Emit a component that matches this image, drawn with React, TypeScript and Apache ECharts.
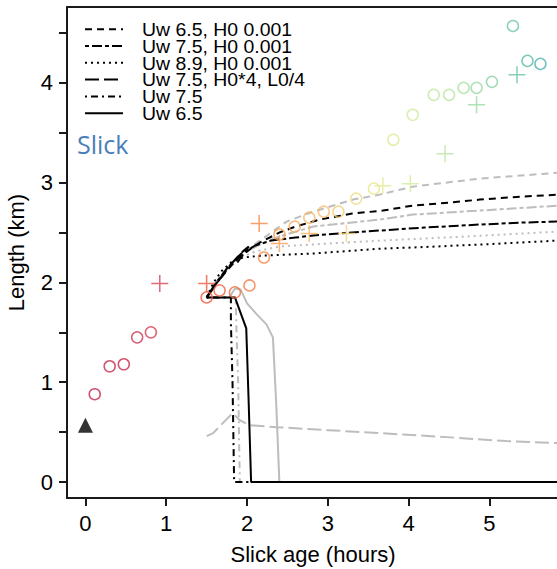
import React, { useEffect, useRef } from 'react';
import * as echarts from 'echarts';

// ---- observations ----
const circleAge = [0.115, 0.3, 0.475, 0.64, 0.81, 1.5, 1.66, 1.85, 2.03, 2.21, 2.4, 2.59, 2.77, 2.95, 3.13, 3.35, 3.57, 3.81, 4.05, 4.31, 4.5, 4.68, 4.84, 5.03, 5.29, 5.47, 5.63];
const circleLength = [0.88, 1.16, 1.18, 1.45, 1.5, 1.85, 1.92, 1.9, 1.97, 2.25, 2.48, 2.56, 2.65, 2.71, 2.71, 2.84, 2.94, 3.43, 3.68, 3.88, 3.88, 3.95, 3.95, 4.01, 4.57, 4.22, 4.19];
const crossAge = [0.92, 1.5, 2.15, 2.4, 2.77, 3.23, 3.68, 4.02, 4.45, 4.84, 5.34];
const crossLength = [1.99, 1.99, 2.59, 2.39, 2.49, 2.49, 2.97, 2.99, 3.29, 3.78, 4.08];
const triangleAge = [0];
const triangleLength = [0.57];

// ---- model curves (age h, length km) ----
const uw65H0 = [[1.5, 1.85], [1.6, 1.97], [1.75, 2.12], [1.9, 2.25], [2.05, 2.34], [2.16, 2.4], [2.4, 2.5], [2.6, 2.56], [2.9, 2.63], [3.3, 2.69], [3.68, 2.72], [4.05, 2.77], [4.5, 2.8], [4.88, 2.83], [5.4, 2.86], [5.86, 2.88]];
const uw75H0 = [[1.5, 1.85], [1.6, 1.98], [1.76, 2.15], [1.93, 2.29], [2.1, 2.37], [2.3, 2.42], [2.6, 2.45], [2.82, 2.47], [3.3, 2.5], [3.64, 2.52], [4.2, 2.55], [4.88, 2.58], [5.4, 2.6], [5.86, 2.61]];
const uw89H0 = [[1.5, 1.85], [1.58, 1.99], [1.68, 2.11], [1.8, 2.2], [1.95, 2.25], [2.21, 2.27], [2.82, 2.29], [3.68, 2.34], [4.05, 2.35], [4.9, 2.38], [5.86, 2.42]];
const uw75H0x4 = [[1.5, 1.85], [1.66, 2.03], [1.82, 2.2], [1.96, 2.32], [2.02, 2.36], [1.96, 2.29], [1.88, 2.2]];
const uw75 = [[1.5, 1.85], [1.8, 1.85], [1.8, 1.6], [1.82, 1.0], [1.84, 0], [2.05, 0]];
const uw65 = [[1.5, 1.85], [1.85, 1.85], [1.99, 1.54], [2.02, 0.8], [2.05, 0], [5.86, 0]];

const uw65H0Grey = [[1.5, 1.85], [1.6, 1.98], [1.75, 2.14], [1.9, 2.27], [2.0, 2.33], [2.16, 2.42], [2.49, 2.61], [2.82, 2.71], [3.31, 2.83], [3.64, 2.88], [4.05, 2.96], [4.88, 3.04], [5.86, 3.1]];
const uw75H0Grey = [[1.5, 1.85], [1.62, 1.99], [1.78, 2.16], [1.95, 2.29], [2.16, 2.38], [2.4, 2.46], [2.82, 2.56], [3.64, 2.63], [4.05, 2.68], [4.88, 2.72], [5.86, 2.77]];
const uw89H0Grey = [[1.5, 1.85], [1.6, 1.99], [1.75, 2.14], [1.92, 2.25], [2.1, 2.31], [2.4, 2.36], [3.0, 2.39], [3.68, 2.42], [4.7, 2.46], [5.86, 2.51]];
const uw75H0x4Grey = [[1.5, 0.46], [1.58, 0.49], [1.7, 0.59], [1.82, 0.69], [1.91, 0.62], [2.03, 0.57], [2.36, 0.55], [3.0, 0.52], [3.64, 0.49], [4.47, 0.45], [5.21, 0.41], [5.86, 0.39]];
const uw75Grey = [[1.5, 1.85], [1.86, 1.85], [1.87, 1.5], [1.89, 1.0], [1.91, 0], [2.4, 0]];
const uw65Grey = [[1.5, 1.85], [1.78, 1.85], [1.85, 1.94], [1.92, 1.93], [2.0, 1.79], [2.12, 1.68], [2.24, 1.58], [2.32, 1.45], [2.36, 0.8], [2.4, 0], [5.86, 0]];

const legendNames = ['Uw 6.5, H0 0.001', 'Uw 7.5, H0 0.001', 'Uw 8.9, H0 0.001', 'Uw 7.5, H0*4, L0/4', 'Uw 7.5', 'Uw 6.5'];
const xTicks = [0, 1, 2, 3, 4, 5];
const yTicks = [0, 0.5, 1, 1.5, 2, 2.5, 3, 3.5, 4, 4.5];
const yLabels = [0, 1, 2, 3, 4];

// colour ramp by slick age (palette)
const agePalette: [number, string][] = [
  [0, '#c0244c'], [0.5, '#c82c4e'], [1.0, '#dc4655'], [1.5, '#ee5a3c'], [2.0, '#f47844'],
  [2.5, '#f7a656'], [3.0, '#f7c070'], [3.5, '#ece68c'], [4.0, '#d2ec9c'], [4.5, '#b8e4a0'],
  [5.0, '#8ed2a6'], [5.5, '#58baa8'], [6.0, '#3898b6'],
];
function hex(c: string) { return [1, 3, 5].map(i => parseInt(c.slice(i, i + 2), 16)); }
function colorAt(a: number) {
  for (let i = 0; i < agePalette.length - 1; i++) {
    const [a0, c0] = agePalette[i];
    const [a1, c1] = agePalette[i + 1];
    if (a <= a1) {
      const t = Math.max(0, (a - a0) / (a1 - a0));
      const p = hex(c0), q = hex(c1);
      const r = p.map((v, k) => Math.round(v + (q[k] - v) * t));
      return `rgb(${r[0]},${r[1]},${r[2]})`;
    }
  }
  return agePalette[agePalette.length - 1][1];
}

const FONT = '"Liberation Sans", Arial, sans-serif';
const BLACK = '#000';
const GREY = '#bdbdbd';
const DASH = [7, 5];
const TWODASH = [4, 3, 10, 3];
const DOT = [2, 4];
const LONGDASH = [14, 5];
const DOTDASH = [2, 4, 7, 4];
const legendDashes: (number[] | null)[] = [DASH, TWODASH, DOT, LONGDASH, DOTDASH, null];

function lineSeries(name: string, data: number[][], color: string, dash: number[] | 'solid', width: number, z: number) {
  return {
    type: 'line', name, data, symbol: 'none', z,
    lineStyle: { color, width, type: dash, cap: 'butt' },
    itemStyle: { color },
    silent: true,
  };
}

// legend drawn as graphic elements (row layout)
const LEG_X0 = 85, LEG_X1 = 123, LEG_TX = 142, LEG_Y0 = 29.2, LEG_DY = 16.8;
function legendGraphic() {
  const els: any[] = [];
  legendNames.forEach((name, i) => {
    const y = LEG_Y0 + i * LEG_DY;
    const d = legendDashes[i];
    els.push({
      type: 'line', silent: true,
      shape: { x1: LEG_X0, y1: y, x2: LEG_X1, y2: y },
      style: { stroke: '#000', lineWidth: 2, lineDash: d || undefined, lineCap: 'butt' },
    });
    els.push({
      type: 'text', silent: true, x: LEG_TX, y: y + 0.5, scaleX: 1.08,
      style: { text: name, fill: '#000', font: `18px ${FONT}`, lineHeight: 16, verticalAlign: 'middle' },
    });
  });
  return els;
}

export default function App() {
  const ref = useRef<HTMLDivElement>(null);
  useEffect(() => {
    if (!ref.current) return;
    const chart = echarts.init(ref.current, null, { renderer: 'svg' });
    const axisBase = { lineStyle: { color: '#1a1a1a', width: 2 } };
    chart.setOption({
      animation: false,
      backgroundColor: '#fff',
      grid: { left: 67, top: 7, bottom: 71, right: -2, containLabel: false, outerBoundsMode: 'none' },
      xAxis: [
        {
          type: 'value', min: -0.228, max: 5.86, position: 'bottom',
          axisLine: { show: true, onZero: false, ...axisBase },
          axisTick: { show: true, inside: false, length: 8, customValues: xTicks, lineStyle: { color: '#1a1a1a', width: 2 } },
          axisLabel: { customValues: xTicks, fontSize: 22, color: '#000', fontFamily: FONT, margin: 14 },
          splitLine: { show: false },
          name: 'Slick age (hours)', nameLocation: 'middle', nameGap: 45,
          nameTextStyle: { fontSize: 22, color: '#000', fontFamily: FONT },
        },
        {
          type: 'value', min: -0.228, max: 5.86, position: 'top',
          axisLine: { show: true, onZero: false, ...axisBase },
          axisTick: { show: false }, axisLabel: { show: false }, splitLine: { show: false },
        },
      ],
      yAxis: {
        type: 'value', min: -0.16, max: 4.76,
        axisLine: { show: true, onZero: false, ...axisBase },
        axisTick: { show: true, inside: false, length: 8, customValues: yTicks, lineStyle: { color: '#1a1a1a', width: 2 } },
        axisLabel: { customValues: yLabels, fontSize: 22, color: '#000', fontFamily: FONT, margin: 14 },
        splitLine: { show: false },
        name: 'Length (km)', nameLocation: 'middle', nameGap: 40,
        nameTextStyle: { fontSize: 22, color: '#000', fontFamily: FONT },
      },
      graphic: [
        ...legendGraphic(),
        {
          type: 'text', x: 77, y: 144, silent: true,
          style: { text: 'Slick', fill: '#4a7ebb', font: '25px "Open Sans", sans-serif', verticalAlign: 'middle' },
        },
      ],
      series: [
        lineSeries('grey1', uw65H0Grey, GREY, DASH, 2, 1),
        lineSeries('grey2', uw75H0Grey, GREY, TWODASH, 2, 1),
        lineSeries('grey3', uw89H0Grey, GREY, DOT, 2, 1),
        lineSeries('grey4', uw75H0x4Grey, GREY, LONGDASH, 2, 1),
        lineSeries('grey5', uw75Grey, GREY, DOTDASH, 2, 1),
        lineSeries('grey6', uw65Grey, GREY, 'solid', 2, 1),
        lineSeries(legendNames[0], uw65H0, BLACK, DASH, 2, 2),
        lineSeries(legendNames[1], uw75H0, BLACK, TWODASH, 2, 2),
        lineSeries(legendNames[2], uw89H0, BLACK, DOT, 2, 2),
        lineSeries(legendNames[3], uw75H0x4, BLACK, LONGDASH, 2, 2),
        lineSeries(legendNames[4], uw75, BLACK, DOTDASH, 2, 2),
        lineSeries(legendNames[5], uw65, BLACK, 'solid', 2, 2),
        {
          type: 'scatter', name: 'obs circles', z: 3, symbol: 'circle', symbolSize: 11,
          data: circleAge.map((a, i) => ({
            value: [a, circleLength[i]],
            itemStyle: { color: 'rgba(0,0,0,0)', borderColor: colorAt(a), borderWidth: 1.5 },
          })),
        },
        {
          type: 'scatter', name: 'obs crosses', z: 3,
          symbol: 'path://M8.5,0L8.5,17M0,8.5L17,8.5', symbolSize: 17,
          data: crossAge.map((a, i) => ({
            value: [a, crossLength[i]],
            itemStyle: { color: 'rgba(0,0,0,0)', borderColor: colorAt(a), borderWidth: 1.5 },
          })),
        },
        {
          type: 'scatter', name: 'start', z: 3, symbol: 'triangle', symbolSize: 15,
          itemStyle: { color: '#000' },
          data: triangleAge.map((a, i) => [a, triangleLength[i]]),
        },
      ],
    });
    return () => chart.dispose();
  }, []);
  return <div ref={ref} style={{ width: 557, height: 569, position: 'absolute', left: 0, top: 0 }} />;
}
